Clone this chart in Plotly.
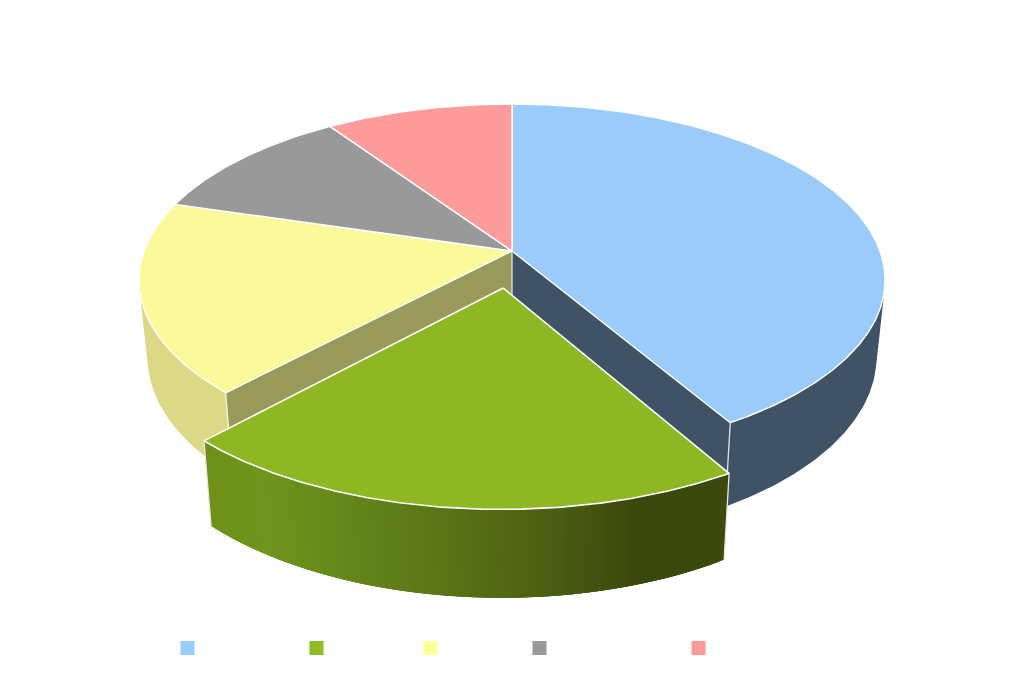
import math
import plotly.graph_objects as go

# Slice shares (percent), clockwise from 12 o'clock
SLICES = ["Blue", "Green", "Yellow", "Grey", "Pink"]
SHARES = [41.5, 20.5, 17.6, 10.9, 9.5]
TOP_COLORS = ["#9BCBFB", "#8EB723", "#FBFA9A", "#999999", "#FE9B9B"]
KEY_COLORS = ["#99CCFF", "#90BA21", "#FFFF99", "#999999", "#FF9999"]
KEY_X = [187.5, 316.5, 430.5, 539.5, 698.5]
KEY_Y = 648
EXPLODED = "Green"

# Projection of the tilted pie onto the page
CX, CY, A, B, PERSP = 512.0, 251.0, 368.0, 171.2, 0.1648
EXPLODE = 0.21
SHRINK, DROP, DROP_K, DROP_REF = 0.977, 85.0, 0.05, 442.0

BLUE_SIDE = "#3F5266"
YELLOW_CUT = "#99995A"
YELLOW_SIDE = "#DBD886"
GREEN_STOPS = [(204, (111, 144, 24)), (261, (112, 148, 30)), (436, (90, 118, 22)),
               (538, (77, 97, 18)), (640, (58, 71, 11)), (727, (60, 74, 14))]


def project(u, v):
    r = 1 + PERSP * v
    return CX + A * u / r, CY - B * v / r


def lower(p):
    x, y = p
    return CX + (x - CX) * SHRINK, y + DROP + DROP_K * (y - DROP_REF)


def rim(t_deg, du=0.0, dv=0.0):
    t = math.radians(t_deg)
    return project(math.sin(t) + du, math.cos(t) + dv)


def arc(t0, t1, du=0.0, dv=0.0, step=0.5):
    n = max(2, int(abs(t1 - t0) / step))
    return [rim(t0 + (t1 - t0) * i / n, du, dv) for i in range(n + 1)]


def silhouette(t0, t1, nx, ny):
    """Angle in [t0, t1] where the wall edge touches the outline."""
    best, best_d = t0, -1e18
    t = t0
    while t <= t1:
        p = rim(t)
        d = p[0] * nx + p[1] * ny
        if d > best_d:
            best, best_d = t, d
        t += 0.25
    return best


def green_color(x):
    for (x0, c0), (x1, c1) in zip(GREEN_STOPS, GREEN_STOPS[1:]):
        if x <= x1:
            f = max(0.0, (x - x0) / (x1 - x0))
            return "rgb(%d,%d,%d)" % tuple(round(a + (b - a) * f) for a, b in zip(c0, c1))
    return "rgb(60,74,14)"


fig = go.Figure()


def poly(points, fill, line=None, width=0):
    pts = list(points) + [points[0]]
    fig.add_trace(go.Scatter(
        x=[p[0] for p in pts], y=[p[1] for p in pts], mode="lines", fill="toself",
        fillcolor=fill, line=dict(color=line or fill, width=width if line else 0),
        hoverinfo="skip", showlegend=False))


def edge(points, color="#FFFFFF", width=1.4):
    fig.add_trace(go.Scatter(
        x=[p[0] for p in points], y=[p[1] for p in points], mode="lines",
        line=dict(color=color, width=width), hoverinfo="skip", showlegend=False))


# slice angles
bounds = []
acc = 0.0
for s in SHARES:
    bounds.append((acc * 3.6, (acc + s) * 3.6))
    acc += s
ang = dict(zip(SLICES, bounds))
centre = project(0, 0)

# Yellow: outer wall and cut face
y0, y1 = ang["Yellow"]
ys = silhouette(y0, y1, -85, 9)
top_arc = arc(y0, ys)
poly(top_arc + [lower(p) for p in reversed(top_arc)], YELLOW_SIDE)
yc = rim(y0)
poly([centre, yc, lower(yc), lower(centre)], YELLOW_CUT)
edge([yc, lower(yc)], "#F4F4E4", 1.3)

# Blue: cut face and outer wall
b0, b1 = ang["Blue"]
bc = rim(b1)
poly([centre, bc, lower(bc), lower(centre)], BLUE_SIDE)
bs = silhouette(b0, b1, 76, 7)
top_arc = arc(bs, b1)
poly(top_arc + [lower(p) for p in reversed(top_arc)], BLUE_SIDE)
edge([bc, lower(bc)], "#DDE3E8", 1.3)
edge([centre, lower(centre)], "#E4E4E0", 1.3)

# Flat tops of the non-exploded slices
for name, color in zip(SLICES, TOP_COLORS):
    if name == EXPLODED:
        continue
    t0, t1 = ang[name]
    poly([centre] + arc(t0, t1), color, "#FFFFFF", 1.4)

# Exploded slice: wall strips painted right to left, each overlapping the next
g0, g1 = ang[EXPLODED]
mid = math.radians((g0 + g1) / 2)
du, dv = EXPLODE * math.sin(mid), EXPLODE * math.cos(mid)
g_arc = arc(g0, g1, du, dv, step=0.8)
for i in range(len(g_arc) - 1):
    p, q = g_arc[i], g_arc[i + 1]
    r = g_arc[min(i + 3, len(g_arc) - 1)]
    c = green_color((p[0] + q[0]) / 2)
    poly([p, r, lower(r), lower(p)], c)
edge([g_arc[0], lower(g_arc[0])], "#E6E8D8", 1.3)
edge([g_arc[-1], lower(g_arc[-1])], "#E6E8D8", 1.3)
g_centre = project(du, dv)
poly([g_centre] + arc(g0, g1, du, dv), TOP_COLORS[SLICES.index(EXPLODED)], "#FFFFFF", 1.6)

# Legend keys
fig.add_trace(go.Scatter(
    x=KEY_X, y=[KEY_Y] * len(KEY_X), mode="markers",
    marker=dict(symbol="square", size=14, color=KEY_COLORS, line=dict(width=0)),
    hoverinfo="skip", showlegend=False))

fig.update_layout(
    width=1024, height=682, margin=dict(l=0, r=0, t=0, b=0),
    paper_bgcolor="#FFFFFF", plot_bgcolor="#FFFFFF", showlegend=False,
    xaxis=dict(range=[0, 1024], visible=False, fixedrange=True),
    yaxis=dict(range=[682, 0], visible=False, fixedrange=True),
)
fig.write_html("out.html", config={"displayModeBar": False},
               post_script="document.body.style.margin='0';document.documentElement.style.overflow='hidden';")
